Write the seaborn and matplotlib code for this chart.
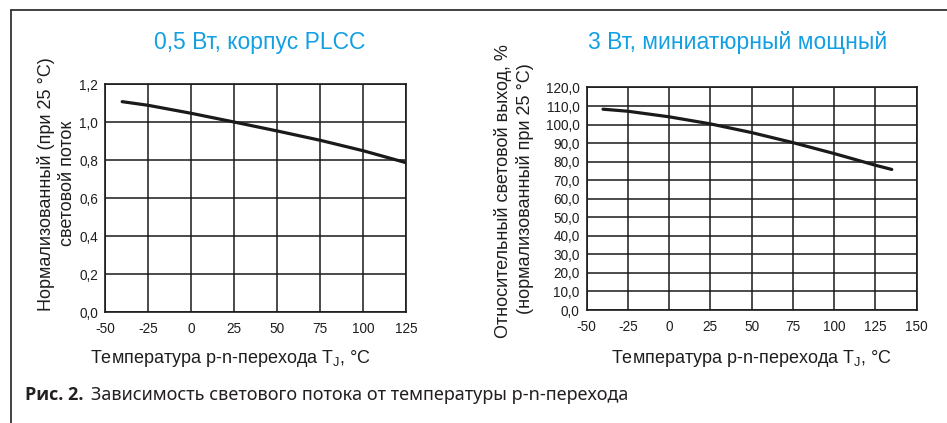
import matplotlib
matplotlib.use("Agg")
from matplotlib import pyplot as plt
from matplotlib.lines import Line2D
from matplotlib.ticker import FuncFormatter
import pandas as pd
import seaborn as sns

# === Data ===
temp_plcc = [-40, -25, 0, 25, 50, 75, 100, 125]
flux_plcc = [1.107, 1.088, 1.046, 1.0, 0.953, 0.904, 0.849, 0.786]

temp_3w = [-40, -25, 0, 25, 50, 75, 100, 125, 135]
flux_3w = [108.3, 107.2, 104.2, 100.4, 95.7, 90.3, 84.4, 78.1, 75.8]

x_ticks_left = [-50, -25, 0, 25, 50, 75, 100, 125]
x_ticks_right = [-50, -25, 0, 25, 50, 75, 100, 125, 150]
y_ticks_left = [0.0, 0.2, 0.4, 0.6, 0.8, 1.0, 1.2]
y_ticks_right = [0, 10, 20, 30, 40, 50, 60, 70, 80, 90, 100, 110, 120]

title_left = "0,5 Вт, корпус PLCC"
title_right = "3 Вт, миниатюрный мощный"
xlabel = "Температура p-n-перехода T$_\\mathregular{J}$, °C"
ylabel_left = ["Нормализованный (при 25 °C)", "световой поток"]
ylabel_right = ["Относительный световой выход, %", "(нормализованный при 25 °C)"]
caption_bold = "Рис. 2."
caption_rest = "Зависимость светового потока от температуры p-n-перехода"

# === Style ===
sns.set_theme(style="white")
plt.rcParams["font.family"] = ["Liberation Sans", "DejaVu Sans"]
plt.rcParams["mathtext.fontset"] = "custom"
plt.rcParams["mathtext.rm"] = "Liberation Sans"
plt.rcParams["axes.unicode_minus"] = False

BLUE = "#12a0e3"
INK = "#1a1a1a"
TXT = "#1e1e1e"
W, H = 947, 423

fig = plt.figure(figsize=(W / 100, H / 100), dpi=100)
fig.patch.set_facecolor("white")

ax1 = fig.add_axes([105 / W, 1 - 312 / H, 301 / W, 228 / H])
ax2 = fig.add_axes([586.5 / W, 1 - 310 / H, 330 / W, 222.5 / H])

df1 = pd.DataFrame({"t": temp_plcc, "v": flux_plcc})
df2 = pd.DataFrame({"t": temp_3w, "v": flux_3w})

sns.lineplot(data=df1, x="t", y="v", ax=ax1, color=INK, linewidth=2.3, zorder=5)
sns.lineplot(data=df2, x="t", y="v", ax=ax2, color=INK, linewidth=2.3, zorder=5)


def comma1(v, _):
    return f"{v:.1f}".replace(".", ",")


for ax, xt, yt in [(ax1, x_ticks_left, y_ticks_left), (ax2, x_ticks_right, y_ticks_right)]:
    ax.set_xlim(xt[0], xt[-1])
    ax.set_ylim(yt[0], yt[-1])
    ax.set_xticks(xt)
    ax.set_yticks(yt)
    ax.yaxis.set_major_formatter(FuncFormatter(comma1))
    ax.grid(True, color=INK, linewidth=1.1)
    ax.set_axisbelow(True)
    for s in ax.spines.values():
        s.set_color(INK)
        s.set_linewidth(1.2)
    ax.tick_params(axis="both", which="major", direction="out", length=3.5, width=1,
                   color=INK, labelsize=9.8, labelcolor=TXT, pad=1.5)
    ax.tick_params(axis="x", pad=4)
    ax.set_xlabel("")
    ax.set_ylabel("")

# titles
fig.text(260 / W, 1 - 43 / H, title_left, color=BLUE, fontsize=16.5, ha="center", va="center")
fig.text(738 / W, 1 - 43 / H, title_right, color=BLUE, fontsize=16.5, ha="center", va="center")

# axis labels
LAB = 13
fig.text(231 / W, 1 - 358 / H, xlabel, fontsize=LAB, color=TXT, ha="center", va="center")
fig.text(752 / W, 1 - 358 / H, xlabel, fontsize=LAB, color=TXT, ha="center", va="center")
fig.text(46 / W, 1 - 184 / H, ylabel_left[0], fontsize=LAB, color=TXT, rotation=90, ha="center", va="center")
fig.text(68 / W, 1 - 183 / H, ylabel_left[1], fontsize=LAB, color=TXT, rotation=90, ha="center", va="center")
fig.text(503 / W, 1 - 191 / H, ylabel_right[0], fontsize=LAB, color=TXT, rotation=90, ha="center", va="center")
fig.text(525 / W, 1 - 189 / H, ylabel_right[1], fontsize=LAB, color=TXT, rotation=90, ha="center", va="center")

# caption
fig.text(25 / W, 1 - 395 / H, caption_bold, fontsize=13, fontweight="bold", color="#231f20",
         family=["Open Sans", "DejaVu Sans"], ha="left", va="center")
fig.text(91 / W, 1 - 395 / H, caption_rest, fontsize=13, color="#231f20",
         family=["Noto Sans", "DejaVu Sans"], ha="left", va="center")

# frame around the figure block
fig.add_artist(Line2D([11 / W, 11 / W], [0, 1 - 10.5 / H], color="#333333", linewidth=1.3))
fig.add_artist(Line2D([11 / W, 1], [1 - 10.5 / H, 1 - 10.5 / H], color="#333333", linewidth=1.3))

fig.savefig("out.png", dpi=100)
